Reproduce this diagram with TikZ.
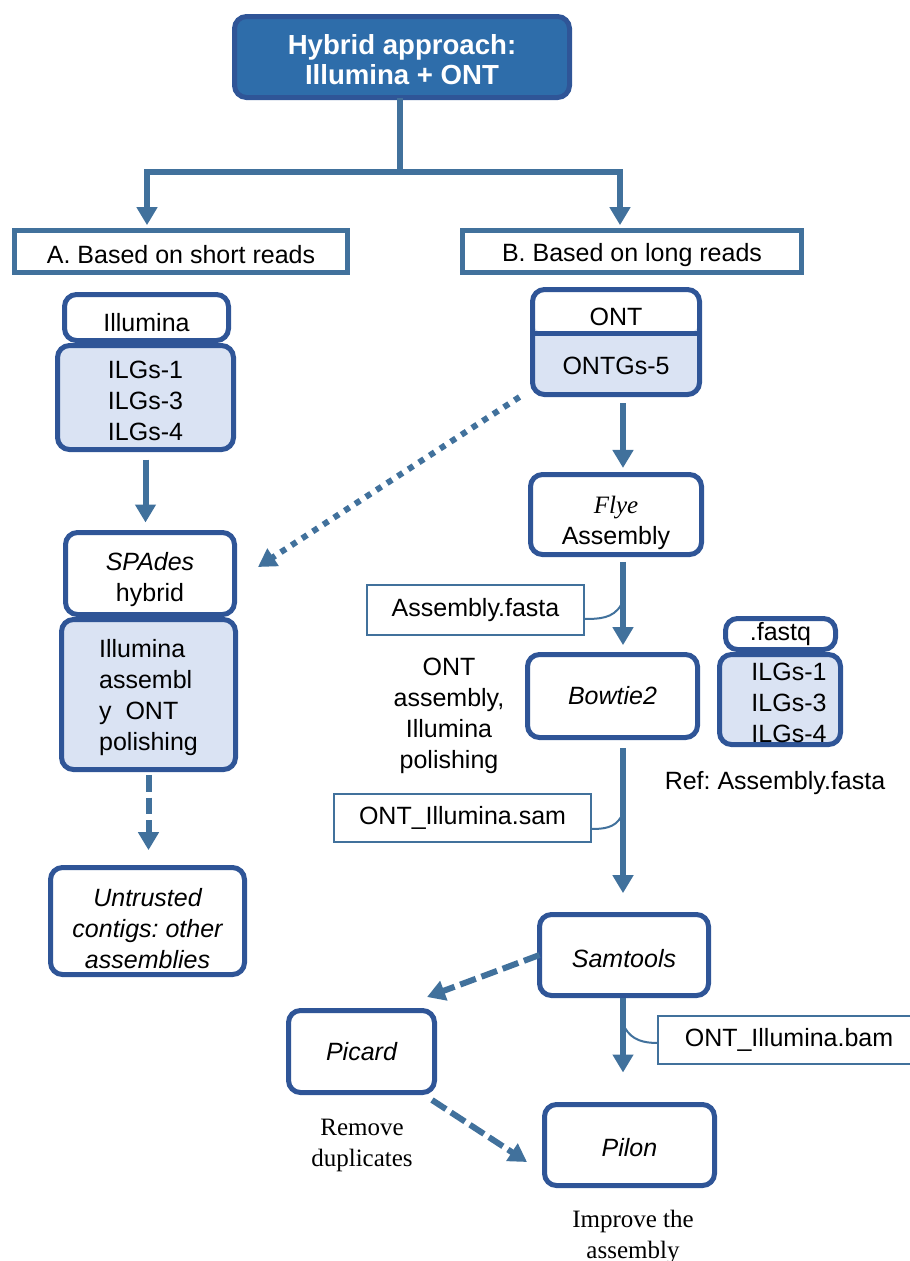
\documentclass[tikz,border=0pt]{standalone}
\usepackage{fontspec}
\setmainfont{Liberation Sans}
\newfontfamily\serifrm{Liberation Serif}
\usetikzlibrary{arrows.meta}
\definecolor{lineblue}{HTML}{41719C}
\definecolor{nodeblue}{HTML}{2F5597}
\definecolor{titlefill}{HTML}{2E6DAA}
\definecolor{lightfill}{HTML}{DAE3F3}
\newcommand\mainsize{\fontsize{18.75}{23.25}\selectfont\frenchspacing}
% pushes a node's text down by #1 (a length)
\newcommand\dn[1]{\rule{0pt}{\dimexpr0.73em+#1*2\relax}}
\begin{document}
\begin{tikzpicture}[x=0.75pt,y=-0.75pt,
  every node/.style={font=\mainsize, inner sep=0pt, outer sep=0pt, align=center},
  sz/.style 2 args={minimum width={(#1-5)*0.75pt}, minimum height={(#2-5)*0.75pt}},
  fsz/.style 2 args={minimum width={(#1-2)*0.75pt}, minimum height={(#2-2)*0.75pt}},
  procbox/.style={draw=nodeblue, line width=3.75pt, rounded corners=9pt, fill=white},
  databox/.style={procbox, fill=lightfill},
  headbox/.style={draw=lineblue, line width=3.75pt, fill=white},
  filebox/.style={draw=lineblue, line width=1.5pt, fill=white},
  ital/.style={font=\mainsize\itshape},
  serif/.style={font=\mainsize\serifrm},
  conn/.style={draw=lineblue, line width=4.5pt},
  arr/.style={conn, -{Triangle[width=15pt,length=13.5pt]}},
  dasharr/.style={arr, dash pattern=on 12.5pt off 4.5pt},
  dotarr/.style={arr, dash pattern=on 4.5pt off 5pt},
  callout/.style={draw=lineblue, line width=1.5pt}
]
\useasboundingbox (0,0) rectangle (910,1261);

% title and branches
\node[procbox, fill=titlefill, text=white, font=\bfseries\fontsize{20.7}{22.5}\selectfont, sz={340}{86}] (title) at (402,57) {\dn{2.25pt}Hybrid approach:\\Illumina + ONT};
\node[headbox, sz={338}{47}] (boxA) at (181,251.5) {\dn{2.25pt}A. Based on short reads};
\node[headbox, sz={344}{47}] (boxB) at (632,251.5) {\dn{2.25pt}B. Based on long reads};

% left column
\node[databox, sz={181}{109}] (illBot) at (145.5,397.5) {\dn{1.9pt}ILGs-1\\ILGs-3\\ILGs-4};
\node[procbox, sz={169}{51}] (illTop) at (146.5,317.5) {\dn{3.75pt}Illumina};
\node[databox, sz={179}{155}, align=left] (spBot) at (148.5,694.5) {\dn{2.25pt}Illumina\\assembl\\y\ \ ONT\\polishing};
\node[procbox, sz={174}{87}] (spTop) at (150,573.5) {\dn{4.5pt}\textit{SPAdes}\\hybrid};
\node[procbox, sz={199}{112}, ital] (untr) at (147.5,921) {\dn{5.25pt}Untrusted\\contigs: other\\assemblies};

% right column
\node[databox, sz={172}{110},
  path picture={\fill[white] (path picture bounding box.north west) rectangle ([shift={(0,43.5)}]path picture bounding box.north east);}] (ontBox) at (616,342) {};
\draw[nodeblue, line width=3.75pt] (ontBox.west |- 0,333) -- (ontBox.east |- 0,333);
\node (ontTopT) at (616,317) {ONT};
\node (ontBotT) at (616,366) {ONTGs-5};

\node[procbox, sz={176}{85}] (flye) at (616,514.5) {\dn{6pt}{\serifrm\itshape Flye}\\Assembly};
\node[filebox, fsz={219}{52}] (afasta) at (475.5,610) {Assembly.fasta};
\node[procbox, sz={175}{88}, ital] (bowtie) at (612.5,696) {Bowtie2};
\node (ontlbl) at (449,711) {\dn{3pt}ONT\\assembly,\\Illumina\\polishing};

\node[databox, sz={126}{95}] (fqBot) at (780,699.5) {};
\node[procbox, sz={115}{36}] (fqTop) at (780.5,634) {.fastq};
\node[align=left] (fqText) at (789,703) {ILGs-1\\ILGs-3\\ILGs-4};
\node (reflbl) at (775,780) {\dn{2.25pt}Ref: Assembly.fasta};

\node[filebox, fsz={259}{50}] (sam) at (462.5,818) {ONT\_Illumina.sam};
\node[procbox, sz={174}{86}, ital] (samtools) at (624,955) {\dn{2.25pt}Samtools};
\node[procbox, sz={151}{87}, ital] (picard) at (361.5,1051.5) {Picard};
\node[filebox, fsz={264}{50}] (bam) at (789,1040) {ONT\_Illumina.bam};
\node[procbox, sz={175}{86}, ital] (pilon) at (629.5,1145) {\dn{1.5pt}Pilon};
\node[serif] (rmlbl) at (362,1142) {\dn{1.9pt}Remove\\duplicates};
\node[serif] (implbl) at (633,1234) {\dn{1.9pt}Improve the\\assembly};

% connectors
\coordinate (jm) at (400,172);
\coordinate (ja) at (147,172);
\coordinate (jb) at (620,172);
\coordinate (col) at (623,0);
\draw[conn] (jm |- title.south) -- (jm);
\draw[arr, shorten >=4pt] (jm) -| (ja |- boxA.north);
\draw[arr, shorten >=4pt] (jm) -| (jb |- boxB.north);

\draw[arr, shorten <=7.5pt, shorten >=7.5pt] (illBot.south) -- (illBot.south |- spTop.north);
\draw[dasharr, shorten <=4pt, shorten >=13pt] (spBot.south) -- (spBot.south |- untr.north);
\draw[dotarr] ([shift={(-13,2.5)}]ontBox.south west) -- ([shift={(23.5,-6.5)}]spTop.east);

\draw[arr, shorten <=6.4pt, shorten >=4.9pt] (ontBox.south -| col) -- (flye.north -| col);
\draw[arr, shorten <=5.6pt, shorten >=7pt] (flye.south -| col) -- (bowtie.north -| col);
\draw[arr, shorten <=7.9pt, shorten >=16pt] (bowtie.south -| col) -- (samtools.north -| col);
\draw[arr, shorten <=2pt, shorten >=24pt] (samtools.south -| col) -- (pilon.north -| col);

\draw[dasharr] (samtools.west) -- ([shift={(-7.5,-13.5)}]picard.north east);
\draw[dasharr] ([shift={(-2.5,7.5)}]picard.south east) -- ([shift={(-17.5,17)}]pilon.west);

% callouts
\coordinate (cA) at (621,605);
\coordinate (cS) at (621,817);
\coordinate (cB) at (625,1028);
\draw[callout] ([shift={(0,9)}]afasta.east) to[out=0,in=-120] (cA);
\draw[callout] ([shift={(0,11)}]sam.east) to[out=0,in=-120] (cS);
\draw[callout] ([shift={(0,3)}]bam.west) to[out=180,in=-60] (cB);
\end{tikzpicture}
\end{document}
